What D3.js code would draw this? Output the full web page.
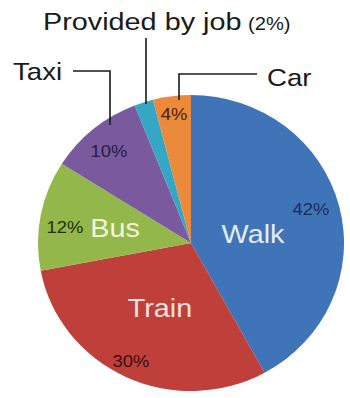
<!DOCTYPE html>
<html><head><meta charset="utf-8">
<script src="https://cdn.jsdelivr.net/npm/d3@7"></script>
<style>html,body{margin:0;padding:0;background:#fff;}svg{display:block;}</style>
</head><body>
<svg id="c" width="350" height="398"></svg>
<script>
// data
const categories = ["Walk", "Train", "Bus", "Taxi", "Provided by job", "Car"];
const values = [42, 30, 12, 10, 2, 4];
const pctLabels = ["42%", "30%", "12%", "10%", "2%", "4%"];

// styles / layout (not data)
const colors = ["#3f74b9", "#bf403b", "#93b74b", "#7a5a9e", "#35a7c4", "#ec8a3b"];
const pctColors = ["#1b2d57", "#3a0e0e", "#22300c", "#2b1a42", "#0d3440", "#4a1f0a"];
const nameColors = {Walk: "#e3ecf7", Train: "#f7e2de", Bus: "#f2f6d6"};
const cx = 191, cy = 243, rx = 153, ry = 148;
const nameInside = {Walk: [253, 243], Train: [160, 317], Bus: [115, 237]};
const pctPos = {"42%": [311, 215], "30%": [131, 367], "12%": [65, 233], "10%": [109, 157], "4%": [174, 120]};

const svg = d3.select("#c");
const pie = d3.pie().sort(null).value(d => d)(values);
const arc = d3.arc().innerRadius(0).outerRadius(ry);

svg.append("g")
  .attr("transform", `translate(${cx},${cy}) scale(${rx/ry},1)`)
  .selectAll("path").data(pie).join("path")
  .attr("d", arc)
  .attr("fill", (d, i) => colors[i]);

function txt(x, y, s, size, fill, anchor, sx) {
  return svg.append("text")
    .attr("transform", `translate(${x},${y}) scale(${sx || 1.15},1)`)
    .attr("text-anchor", anchor || "middle")
    .attr("font-family", "Liberation Sans, Arial, sans-serif")
    .attr("font-size", size)
    .attr("fill", fill)
    .text(s);
}

// inside category names
categories.forEach((c, i) => {
  if (nameInside[c]) txt(nameInside[c][0], nameInside[c][1], c, 25, nameColors[c]);
});
// inside percentages
pctLabels.forEach((p, i) => {
  if (pctPos[p]) txt(pctPos[p][0], pctPos[p][1], p, 16, pctColors[i]);
});

// outside labels with leaders
txt(43, 30, categories[4], 24, "#1a1a1a", "start", 1.2);
txt(248, 30, "(" + pctLabels[4] + ")", 18, "#1a1a1a", "start", 1.12);
txt(13, 80, categories[3], 24, "#1a1a1a", "start");
txt(267, 86, categories[5], 24, "#1a1a1a", "start");

const line = d3.line();
const leaders = [
  [[73, 71], [110, 71], [110, 125]],
  [[146, 38], [146, 104]],
  [[257, 74], [179, 74], [179, 100]]
];
svg.append("g").selectAll("path").data(leaders).join("path")
  .attr("d", line).attr("fill", "none").attr("stroke", "#1a1a1a").attr("stroke-width", 1.6);
</script>
</body></html>
